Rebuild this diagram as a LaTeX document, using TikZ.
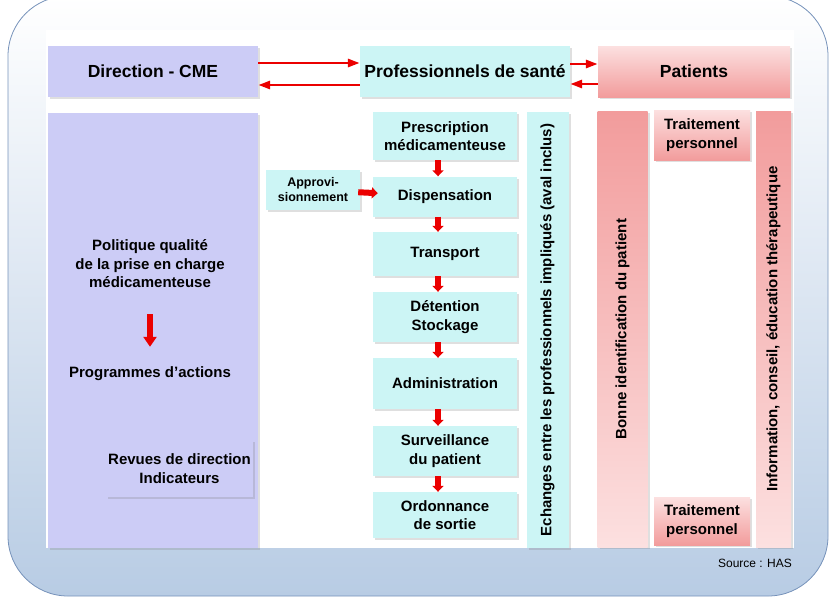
\documentclass[tikz,border=0pt]{standalone}
\usepackage{fontspec}
\setmainfont{Liberation Sans}
\usetikzlibrary{arrows.meta,shadows}

\definecolor{lav}{RGB}{204,204,246}
\definecolor{cyanbg}{RGB}{204,245,245}
\definecolor{pinkdark}{RGB}{242,156,156}
\definecolor{pinklight}{RGB}{252,224,224}
\definecolor{frameblue}{RGB}{184,204,228}
\definecolor{frameline}{RGB}{118,146,186}
\definecolor{arrowred}{RGB}{235,0,0}

\newcommand{\headfont}{\bfseries\fontsize{17.5}{21}\selectfont}
\newcommand{\boxfont}{\bfseries\fontsize{15}{18.5}\selectfont}
\newcommand{\smallboxfont}{\bfseries\fontsize{12.5}{15}\selectfont}

\tikzset{
  box/.style={align=center, font=\boxfont, inner sep=2pt,
    drop shadow={shadow xshift=2pt, shadow yshift=-2pt, opacity=0.25}},
  lavbox/.style={box, fill=lav},
  cyanbox/.style={box, fill=cyanbg},
  flowbox/.style={cyanbox, minimum width=144pt},
  pinkbox/.style={box, top color=pinklight, bottom color=pinkdark},
  pinkcol/.style={box, top color=pinkdark, bottom color=pinklight, minimum height=436pt},
  txt/.style={align=center, font=\boxfont, inner sep=2pt},
  thinarrow/.style={arrowred, line width=2.8pt, -{Triangle[length=12pt,width=8pt]}},
  blockarrow/.style={arrowred, line width=6pt, -{Triangle[length=6pt,width=11pt]}}
}

\begin{document}
\begin{tikzpicture}[x=1pt, y=-1pt]
  \useasboundingbox (0,0) rectangle (834,600);
  % cadre
  \shade[top color=white, bottom color=frameblue, rounded corners=60pt] (8,-4) rectangle (828,596);
  \draw[frameline, line width=0.8pt, rounded corners=60pt] (8,-4) rectangle (828,596);
  \fill[white] (46,30) rectangle (794,548);

  % en-tetes
  \node[lavbox, font=\headfont, minimum width=210pt, minimum height=51pt] (dir) at (153,71.5) {Direction - CME};
  \node[cyanbox, font=\headfont, minimum width=210pt, minimum height=51pt] (pro) at (465,71.5) {Professionnels de santé};
  \node[pinkbox, font=\headfont, minimum width=192pt, minimum height=51pt] (pat) at (694,71.5) {Patients};

  \draw[thinarrow] ([yshift=8.5pt]dir.east) -- ([yshift=8.5pt]pro.west);
  \draw[thinarrow] ([yshift=-13.5pt]pro.west) -- ([yshift=-13.5pt]dir.east);
  \draw[thinarrow] ([yshift=7.5pt]pro.east) -- ([yshift=7.5pt]pat.west);
  \draw[thinarrow] ([yshift=-12.5pt]pat.west) -- ([yshift=-12.5pt]pro.east);

  % colonne direction
  \node[lavbox, minimum width=210pt, minimum height=435pt] (polcol) at (153,330.5) {};
  \node[txt] (pol) at (150,264) {Politique qualité\\de la prise en charge\\médicamenteuse};
  \node[txt] (prog) at (150,374) {Programmes d’actions};
  \draw[blockarrow, line width=6pt, -{Triangle[length=10pt,width=13pt]}, shorten <=24pt, shorten >=18pt] (pol) -- (prog);
  \node[lavbox, minimum width=145pt, minimum height=57pt] (rev) at (179.5,468.5) {Revues de direction\\Indicateurs};

  % circuit du medicament
  \node[cyanbox, font=\smallboxfont, minimum width=94pt, minimum height=40pt] (appro) at (313,190) {Approvi-\\sionnement};
  \node[flowbox, minimum height=48pt] (presc) at (445,136) {Prescription\\médicamenteuse};
  \node[flowbox, minimum height=40pt] (disp) at (445,196.5) {Dispensation};
  \node[flowbox, minimum height=44pt] (trans) at (445,254) {Transport};
  \node[flowbox, minimum height=50pt] (det) at (445,317) {Détention\\Stockage};
  \node[flowbox, minimum height=51pt] (adm) at (445,383.5) {Administration};
  \node[flowbox, minimum height=50pt] (surv) at (445,451) {Surveillance\\du patient};
  \node[flowbox, minimum height=46pt] (ord) at (445,515) {Ordonnance\\de sortie};

  \draw[blockarrow, shorten <=-2pt, shorten >=-5pt] (appro) -- (disp);
  \foreach \a/\b in {presc/disp, disp/trans, trans/det, det/adm, adm/surv, surv/ord}
    \draw[blockarrow] ([xshift=-7pt]\a.south) -- ([xshift=-7pt]\b.north);

  \node[cyanbox, minimum width=42pt, minimum height=436pt,
    label={[txt, rotate=90]center:Echanges entre les professionnels impliqués (aval inclus)}] (ech) at (547.5,330) {};

  % colonnes patients
  \node[pinkcol, minimum width=50pt,
    label={[txt, rotate=90]center:Bonne identification du patient}] (bonne) at (622.5,329) {};
  \node[pinkbox, minimum width=96pt, minimum height=50pt] (trait1) at (702,135) {Traitement\\personnel};
  \node[pinkbox, minimum width=96pt, minimum height=48pt] (trait2) at (702,521) {Traitement\\personnel};
  \node[pinkcol, minimum width=35pt,
    label={[txt, rotate=90]center:Information, conseil, éducation thérapeutique}] (info) at (773.5,329) {};

  \node[font=\fontsize{12}{14}\selectfont] (src) at (755,563) {Source : HAS};
\end{tikzpicture}
\end{document}
